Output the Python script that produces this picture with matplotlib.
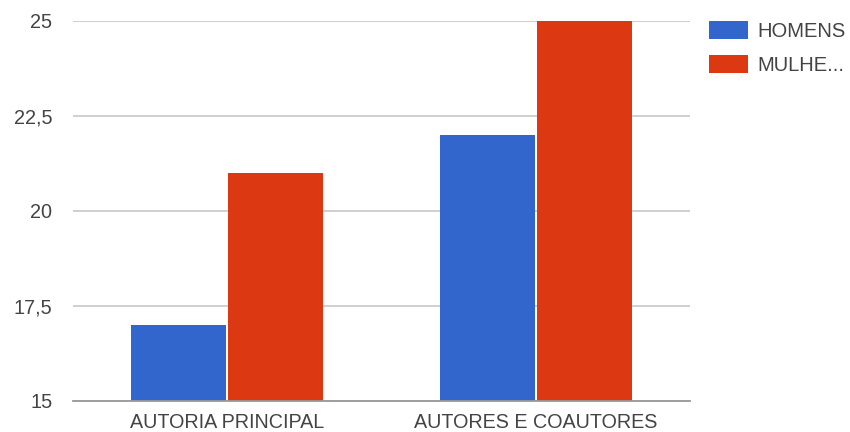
import matplotlib
matplotlib.use("Agg")
import matplotlib.pyplot as plt
import numpy as np

categories = ["AUTORIA PRINCIPAL", "AUTORES E COAUTORES"]
series_names = ["HOMENS", "MULHE..."]
homens = [17, 22]
mulheres = [21, 25]
yticks = [15, 17.5, 20, 22.5, 25]
ytick_labels = ["15", "17,5", "20", "22,5", "25"]

plt.rcParams["font.family"] = ["Liberation Sans", "DejaVu Sans"]

fig = plt.figure(figsize=(8.5, 4.32), dpi=100)
ax = fig.add_axes([73 / 850, 31 / 432, 617 / 850, 380 / 432])

x = np.arange(len(categories))
w = 0.308
off = 0.157
ax.bar(x - off, homens, width=w, color="#3366CC", label=series_names[0], zorder=3)
ax.bar(x + off, mulheres, width=w, color="#DC3912", label=series_names[1], zorder=3)

ax.set_xlim(-0.5, 1.5)
ax.set_ylim(15, 25)
ax.set_yticks(yticks)
ax.set_yticklabels(ytick_labels)
ax.set_xticks(x)
ax.set_xticklabels(categories)
ax.tick_params(axis="y", length=0, pad=15, labelsize=14.3, colors="#444444")
ax.tick_params(axis="x", length=0, pad=8.5, labelsize=14.2, colors="#444444")
ax.grid(axis="y", color="#cccccc", linewidth=1.3, zorder=0)
for s in ["top", "right", "left"]:
    ax.spines[s].set_visible(False)
ax.spines["bottom"].set_color("#999999")
ax.spines["bottom"].set_linewidth(1.3)
ax.spines["bottom"].set_zorder(4)

leg = ax.legend(loc="upper left", bbox_to_anchor=(709 / 850, 1 - 21 / 432),
                bbox_transform=fig.transFigure, frameon=False, fontsize=14.5,
                handlelength=1.95, handleheight=1.0, handletextpad=0.45,
                labelspacing=0.7, borderaxespad=0, borderpad=0)
for t in leg.get_texts():
    t.set_color("#444444")

fig.savefig("out.png", dpi=100)
